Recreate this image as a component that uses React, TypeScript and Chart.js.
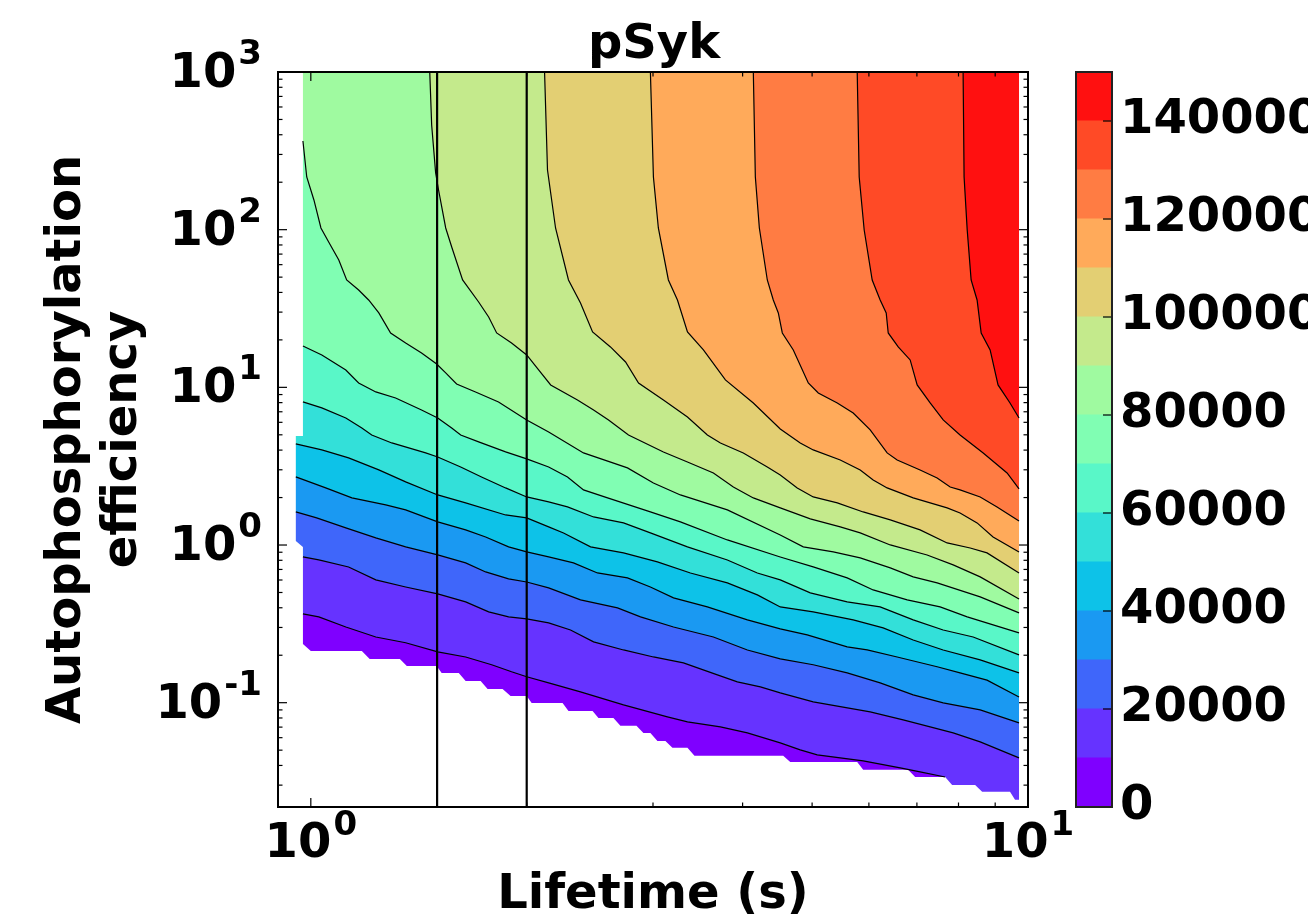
import React, { useEffect, useRef } from 'react';
import { Chart, registerables } from 'chart.js';

Chart.register(...registerables);

const FAMILY = "'DejaVu Sans', 'Liberation Sans', sans-serif";

// ---- contour levels and band colours ----
const LEVELS = [0, 10000, 20000, 30000, 40000, 50000, 60000, 70000, 80000, 90000, 100000, 110000, 120000, 130000, 140000, 150000];
const BAND_COLORS = [
  '#7f00ff', '#6633ff', '#3f66fa', '#1a99f2', '#0dc2e8', '#33e0d9', '#59f7c8', '#80feb3',
  '#9ffaa0', '#c4ea8c', '#e3cf73', '#ffaa5a', '#ff7c43', '#ff4a26', '#ff1010',
];
const CB_TICKS = [0, 20000, 40000, 60000, 80000, 100000, 120000, 140000];

// ---- axes ----
const X_MIN = 0.9;
const X_MAX = 10;
const Y_MIN = 0.0218;
const Y_MAX = 1000;
const X_MAJOR = [1, 10];
const X_EXP = ['0', '1'];
const Y_MAJOR = [0.1, 1, 10, 100, 1000];
const Y_EXP = ['-1', '0', '1', '2', '3'];
const MINOR_MULT = [2, 3, 4, 5, 6, 7, 8, 9];
const X_DECADES = [0.1, 1];
const Y_DECADES = [0.01, 0.1, 1, 10, 100];
const REF_X = [1.5, 2];

// ---- data domain (masked region edges) ----
const X_RIGHT = 9.716;
const Y_TOP = 1000;
const LEFT_EDGE: number[][] = [[0.975, 1000], [0.975, 4.92], [0.953, 4.92], [0.953, 1.062], [0.975, 0.9725], [0.975, 0.236]];
const BOTTOM_EDGE: number[][] = [
  [1.0, 0.2131], [1.178, 0.2131], [1.208, 0.1895], [1.331, 0.1895], [1.361, 0.1712], [1.498, 0.1712],
  [1.522, 0.1545], [1.608, 0.1545], [1.644, 0.1375], [1.725, 0.1375], [1.764, 0.1223], [1.851, 0.1223],
  [1.899, 0.1104], [2.0, 0.1104], [2.032, 0.0997], [2.244, 0.0997], [2.287, 0.0887], [2.471, 0.0887],
  [2.518, 0.0801], [2.642, 0.0801], [2.702, 0.0713], [2.845, 0.0713], [2.909, 0.0643], [2.975, 0.0643],
  [3.043, 0.0572], [3.122, 0.0572], [3.193, 0.0517], [3.351, 0.0517], [3.427, 0.046], [4.557, 0.046],
  [4.661, 0.0421], [5.779, 0.0421], [5.891, 0.0375], [6.806, 0.0375], [6.961, 0.0338], [7.664, 0.0338],
  [7.838, 0.0301], [8.439, 0.0301], [8.631, 0.0272], [9.439, 0.0272], [9.592, 0.0242], [9.716, 0.0242],
];

// ---- contour lines [lifetime, efficiency] ----
const c10000 = [[0.975, 0.366], [1.026, 0.35], [1.119, 0.302], [1.232, 0.261], [1.356, 0.24], [1.503, 0.21], [1.644, 0.195], [1.787, 0.174], [1.905, 0.157], [2.0, 0.146], [2.146, 0.1335], [2.377, 0.117], [2.729, 0.0968], [3.142, 0.0813], [3.351, 0.0755], [3.725, 0.0702], [4.062, 0.0643], [4.514, 0.0556], [4.813, 0.0502], [5.083, 0.0467], [5.891, 0.0428], [6.634, 0.0386], [7.072, 0.0364], [7.664, 0.0338]];
const c20000 = [[0.975, 0.84], [1.026, 0.804], [1.129, 0.726], [1.232, 0.601], [1.356, 0.542], [1.503, 0.49], [1.644, 0.436], [1.77, 0.377], [1.887, 0.35], [2.0, 0.34], [2.146, 0.321], [2.302, 0.289], [2.479, 0.243], [2.729, 0.216], [3.004, 0.195], [3.308, 0.179], [3.689, 0.15], [3.933, 0.1355], [4.235, 0.126], [4.514, 0.1154], [5.018, 0.1012], [6.025, 0.0874], [6.698, 0.0778], [7.304, 0.0702], [7.864, 0.0643], [8.577, 0.0564], [9.716, 0.0447]];
const c30000 = [[0.953, 1.621], [1.019, 1.485], [1.119, 1.284], [1.232, 1.109], [1.356, 0.973], [1.503, 0.865], [1.644, 0.77], [1.753, 0.675], [1.887, 0.61], [2.0, 0.583], [2.146, 0.535], [2.377, 0.449], [2.677, 0.399], [2.882, 0.35], [3.204, 0.302], [3.642, 0.261], [4.062, 0.216], [4.514, 0.1895], [5.018, 0.174], [5.596, 0.1545], [6.221, 0.1335], [6.917, 0.112], [7.616, 0.0997], [8.577, 0.09], [9.716, 0.0744]];
const c40000 = [[0.953, 2.703], [1.049, 2.302], [1.141, 1.989], [1.272, 1.796], [1.356, 1.67], [1.503, 1.401], [1.644, 1.247], [1.753, 1.125], [1.887, 0.973], [2.0, 0.904], [2.146, 0.84], [2.324, 0.77], [2.51, 0.665], [2.764, 0.619], [2.975, 0.542], [3.204, 0.462], [3.572, 0.405], [4.062, 0.335], [4.514, 0.294], [4.922, 0.269], [5.596, 0.226], [5.967, 0.216], [6.57, 0.195], [7.47, 0.169], [8.04, 0.1545], [8.767, 0.139], [9.716, 0.1088]];
const c50000 = [[0.953, 4.377], [1.036, 4.009], [1.129, 3.567], [1.244, 2.994], [1.356, 2.513], [1.503, 2.078], [1.644, 1.849], [1.869, 1.551], [2.0, 1.485], [2.146, 1.303], [2.251, 1.193], [2.455, 0.973], [2.729, 0.891], [3.043, 0.781], [3.383, 0.665], [3.809, 0.575], [4.194, 0.483], [4.514, 0.405], [5.018, 0.377], [5.705, 0.335], [6.281, 0.298], [6.917, 0.25], [7.616, 0.216], [8.577, 0.187], [9.716, 0.1545]];
const c60000 = [[0.975, 8.08], [1.036, 7.403], [1.119, 6.396], [1.178, 5.526], [1.216, 4.99], [1.297, 4.44], [1.446, 3.837], [1.503, 3.619], [1.618, 3.127], [1.73, 2.703], [1.869, 2.302], [2.0, 2.018], [2.146, 1.877], [2.28, 1.744], [2.479, 1.507], [2.729, 1.381], [2.975, 1.193], [3.351, 0.973], [3.809, 0.804], [4.194, 0.665], [4.514, 0.601], [4.971, 0.497], [5.596, 0.436], [6.221, 0.405], [6.917, 0.335], [7.616, 0.289], [8.386, 0.261], [9.716, 0.201]];
const c70000 = [[0.975, 18.3], [1.036, 16.05], [1.119, 12.89], [1.166, 10.66], [1.232, 9.35], [1.313, 8.566], [1.427, 7.19], [1.503, 6.396], [1.572, 5.526], [1.618, 4.99], [1.714, 4.506], [1.869, 3.894], [2.0, 3.516], [2.146, 3.127], [2.28, 2.703], [2.4, 2.236], [2.593, 1.989], [2.975, 1.621], [3.276, 1.401], [3.809, 1.077], [4.514, 0.84], [5.018, 0.726], [5.596, 0.619], [6.083, 0.519], [6.785, 0.449], [7.542, 0.405], [8.227, 0.35], [9.716, 0.277]];
const c80000 = [[0.975, 365.2], [0.987, 215.9], [1.01, 154.3], [1.033, 102.5], [1.059, 83.56], [1.094, 64.26], [1.122, 47.97], [1.166, 41.46], [1.204, 35.83], [1.244, 29.64], [1.292, 22.13], [1.356, 19.12], [1.427, 16.52], [1.498, 14.07], [1.542, 12.34], [1.597, 10.51], [1.697, 9.35], [1.827, 8.08], [2.0, 6.213], [2.146, 5.214], [2.4, 3.837], [2.764, 3.083], [3.004, 2.476], [3.276, 2.078], [3.809, 1.67], [4.514, 1.159], [4.86, 0.973], [5.352, 0.904], [5.835, 0.828], [6.426, 0.716], [6.917, 0.628], [7.47, 0.575], [8.577, 0.469], [9.716, 0.371]];
const c90000 = [[1.465, 1000], [1.474, 461.2], [1.493, 228.8], [1.507, 178.5], [1.542, 102.5], [1.572, 77.67], [1.628, 47.97], [1.714, 34.79], [1.77, 27.95], [1.816, 22.13], [1.905, 19.12], [2.0, 16.05], [2.078, 12.89], [2.16, 10.36], [2.354, 8.32], [2.479, 7.19], [2.601, 6.213], [2.773, 4.99], [3.102, 3.894], [3.351, 3.364], [3.642, 2.865], [3.883, 2.335], [4.14, 1.989], [4.514, 1.719], [4.971, 1.464], [5.473, 1.303], [5.835, 1.193], [6.426, 1.001], [7.233, 0.865], [7.864, 0.748], [8.577, 0.628], [9.716, 0.455]];
const c100000 = [[2.118, 1000], [2.138, 239.1], [2.194, 102.5], [2.287, 47.97], [2.377, 34.29], [2.471, 22.46], [2.617, 18.04], [2.747, 14.49], [2.864, 10.66], [3.102, 8.32], [3.351, 6.491], [3.572, 4.99], [3.725, 4.44], [4.009, 3.837], [4.33, 3.127], [4.514, 2.782], [4.767, 2.302], [5.018, 2.018], [5.421, 1.849], [5.891, 1.621], [6.426, 1.443], [7.072, 1.247], [7.713, 1.031], [8.306, 0.958], [8.767, 0.891], [9.716, 0.665]];
const c110000 = [[2.975, 1000], [3.004, 215.9], [3.052, 102.5], [3.152, 47.97], [3.245, 35.83], [3.351, 22.46], [3.527, 17.26], [3.785, 11.14], [4.14, 7.962], [4.514, 5.447], [4.813, 4.44], [5.018, 4.009], [5.473, 3.464], [5.835, 2.994], [6.083, 2.587], [6.362, 2.302], [6.917, 1.989], [7.713, 1.719], [8.04, 1.598], [8.492, 1.381], [8.939, 1.125], [9.716, 0.904]];
const c120000 = [[4.14, 1000], [4.167, 215.9], [4.221, 102.5], [4.33, 47.97], [4.414, 35.83], [4.486, 29.64], [4.544, 22.13], [4.707, 17.26], [4.939, 10.66], [5.1, 9.215], [5.421, 7.962], [5.705, 6.88], [6.025, 5.369], [6.362, 3.837], [6.57, 3.464], [7.072, 2.994], [7.47, 2.664], [7.789, 2.335], [8.04, 2.236], [8.577, 2.018], [9.054, 1.744], [9.716, 1.421]];
const c130000 = [[5.779, 1000], [5.816, 215.9], [5.91, 99.56], [6.064, 47.97], [6.221, 35.83], [6.343, 29.64], [6.384, 22.13], [6.592, 18.04], [6.85, 14.92], [7.006, 10.36], [7.304, 7.962], [7.616, 6.213], [8.04, 4.99], [8.66, 3.837], [9.35, 2.865], [9.716, 2.269]];
const c140000 = [[8.119, 1000], [8.145, 215.9], [8.227, 99.56], [8.331, 47.97], [8.492, 35.83], [8.604, 22.13], [8.855, 17.26], [9.083, 10.36], [9.439, 7.962], [9.716, 6.396]];

const CONTOURS = [c10000, c20000, c30000, c40000, c50000, c60000, c70000, c80000, c90000, c100000, c110000, c120000, c130000, c140000];

const toPts = (arr: number[][]) => arr.map(([x, y]) => ({ x, y }));

// region where value >= level (extended past the domain; the mask trims it)
function regionFor(line: number[][]): number[][] {
  const pts = line.slice();
  const last = pts[pts.length - 1];
  if (last[0] < X_RIGHT - 1e-6) {
    pts.push([last[0], Y_MIN]);
    pts.push([X_MAX, Y_MIN]);
  } else {
    pts.push([X_MAX, last[1]]);
  }
  pts.push([X_MAX, Y_MAX]);
  const first = line[0];
  if (first[1] < Y_TOP) {
    pts.push([X_MIN, Y_MAX]);
    pts.push([X_MIN, first[1]]);
  }
  return pts;
}

// outside of the data domain (white)
const MASK: number[][] = [[X_MIN, Y_MAX], ...LEFT_EDGE, ...BOTTOM_EDGE, [X_RIGHT, Y_TOP], [X_MAX, Y_MAX], [X_MAX, Y_MIN], [X_MIN, Y_MIN]];

const MAIN_FONT = `bold 48px ${FAMILY}`;
const SUP_FONT = `bold 34px ${FAMILY}`;

const axesDecor = {
  id: 'axesDecor',
  afterDraw(chart: any) {
    const { ctx, chartArea: a } = chart;
    const xs = chart.scales.x;
    const ys = chart.scales.y;
    ctx.save();
    ctx.strokeStyle = '#000';
    ctx.lineWidth = 1.2;
    const seg = (x1: number, y1: number, x2: number, y2: number) => {
      ctx.beginPath();
      ctx.moveTo(x1, y1);
      ctx.lineTo(x2, y2);
      ctx.stroke();
    };
    const xTick = (v: number, len: number) => {
      if (v < X_MIN || v > X_MAX) return;
      const p = xs.getPixelForValue(v);
      seg(p, a.bottom, p, a.bottom - len);
      seg(p, a.top, p, a.top + len);
    };
    const yTick = (v: number, len: number) => {
      if (v < Y_MIN || v > Y_MAX) return;
      const p = ys.getPixelForValue(v);
      seg(a.left, p, a.left + len, p);
      seg(a.right, p, a.right - len, p);
    };
    X_MAJOR.forEach((v) => xTick(v, 9));
    X_DECADES.forEach((d) => MINOR_MULT.forEach((m) => { const v = d * m; if (v > X_MIN + 1e-9) xTick(v, 4.5); }));
    Y_MAJOR.forEach((v) => yTick(v, 9));
    Y_DECADES.forEach((d) => MINOR_MULT.forEach((m) => yTick(d * m, 4.5)));

    ctx.lineWidth = 2;
    ctx.strokeRect(a.left, a.top, a.right - a.left, a.bottom - a.top);

    ctx.fillStyle = '#000';
    ctx.textBaseline = 'alphabetic';
    ctx.textAlign = 'left';
    const GAP = 2;
    X_MAJOR.forEach((v, i) => {
      const p = xs.getPixelForValue(v);
      ctx.font = MAIN_FONT;
      const w1 = ctx.measureText('10').width;
      ctx.font = SUP_FONT;
      const w2 = ctx.measureText(X_EXP[i]).width;
      const x0 = p - (w1 + GAP + w2) / 2;
      const base = a.bottom + 50;
      ctx.font = MAIN_FONT;
      ctx.fillText('10', x0, base);
      ctx.font = SUP_FONT;
      ctx.fillText(X_EXP[i], x0 + w1 + GAP, base - 22);
    });
    Y_MAJOR.forEach((v, i) => {
      const p = ys.getPixelForValue(v);
      ctx.font = MAIN_FONT;
      const w1 = ctx.measureText('10').width;
      ctx.font = SUP_FONT;
      const w2 = ctx.measureText(Y_EXP[i]).width;
      const right = a.left - 16;
      const x0 = right - (w1 + GAP + w2);
      const base = p + 15;
      ctx.font = MAIN_FONT;
      ctx.fillText('10', x0, base);
      ctx.font = SUP_FONT;
      ctx.fillText(Y_EXP[i], x0 + w1 + GAP, base - 23);
    });
    ctx.restore();
  },
};

const cbDecor = {
  id: 'cbDecor',
  afterDraw(chart: any) {
    const { ctx, chartArea: a } = chart;
    const ys = chart.scales.y;
    ctx.save();
    ctx.strokeStyle = '#000';
    ctx.lineWidth = 1.2;
    CB_TICKS.forEach((v) => {
      const p = ys.getPixelForValue(v);
      ctx.beginPath();
      ctx.moveTo(a.right, p);
      ctx.lineTo(a.right - 9, p);
      ctx.stroke();
    });
    ctx.strokeStyle = '#222';
    ctx.lineWidth = 2;
    ctx.strokeRect(a.left + 1, a.top, a.right - a.left - 1, a.bottom - a.top);
    ctx.restore();
  },
};

export default function App() {
  const mainRef = useRef<HTMLCanvasElement>(null);
  const cbRef = useRef<HTMLCanvasElement>(null);

  useEffect(() => {
    Chart.defaults.font.family = FAMILY;
    Chart.defaults.color = '#000';

    const common = { showLine: true, pointRadius: 0, pointHoverRadius: 0, tension: 0 };
    const fillCommon = { ...common, borderColor: 'rgba(0,0,0,0)', borderWidth: 0, fill: 'shape' };
    const datasets: any[] = [];
    datasets.push({
      ...fillCommon,
      data: toPts([[X_MIN, Y_MIN], [X_MAX, Y_MIN], [X_MAX, Y_MAX], [X_MIN, Y_MAX]]),
      backgroundColor: BAND_COLORS[0],
      order: 100,
    });
    CONTOURS.forEach((c, i) => {
      datasets.push({
        ...fillCommon,
        data: toPts(regionFor(c)),
        backgroundColor: BAND_COLORS[i + 1],
        order: 99 - i,
      });
    });
    datasets.push({
      ...fillCommon,
      data: toPts(MASK),
      backgroundColor: '#ffffff',
      order: 50,
    });
    CONTOURS.forEach((c) => {
      datasets.push({
        ...common,
        data: toPts(c),
        borderColor: '#000',
        borderWidth: 1.2,
        fill: false,
        order: 10,
      });
    });
    REF_X.forEach((v) => {
      datasets.push({
        ...common,
        data: [{ x: v, y: Y_MIN }, { x: v, y: Y_MAX }],
        borderColor: '#000',
        borderWidth: 2.2,
        fill: false,
        order: 0,
      });
    });

    const main = new Chart(mainRef.current as HTMLCanvasElement, {
      type: 'scatter',
      data: { datasets },
      options: {
        responsive: false,
        animation: false,
        events: [],
        layout: { padding: 0 },
        plugins: {
          legend: { display: false },
          tooltip: { enabled: false },
          title: {
            display: true,
            text: 'pSyk',
            color: '#000',
            font: { family: FAMILY, size: 48, weight: 'bold', lineHeight: '52px' },
            padding: { top: 20, bottom: 0 },
          },
        },
        scales: {
          x: {
            type: 'logarithmic',
            position: 'bottom',
            min: X_MIN,
            max: X_MAX,
            bounds: 'data',
            grid: { display: false, drawTicks: false },
            border: { display: false },
            ticks: { display: false },
            title: {
              display: true,
              text: 'Lifetime (s)',
              color: '#000',
              font: { family: FAMILY, size: 48, weight: 'bold', lineHeight: '50px' },
              padding: { top: 0, bottom: 0 },
            },
            afterFit: (s: any) => { s.height = 114; },
          },
          y: {
            type: 'logarithmic',
            position: 'left',
            min: Y_MIN,
            max: Y_MAX,
            bounds: 'data',
            grid: { display: false, drawTicks: false },
            border: { display: false },
            ticks: { display: false },
            title: {
              display: true,
              text: ['Autophosphorylation', 'efficiency'],
              color: '#000',
              font: { family: FAMILY, size: 48, weight: 'bold', lineHeight: '56px' },
              padding: { top: 40, bottom: 0 },
            },
            afterFit: (s: any) => { s.width = 278; },
          },
          yRightSpace: {
            type: 'linear',
            position: 'right',
            display: true,
            grid: { display: false, drawTicks: false },
            border: { display: false },
            ticks: { display: false },
            afterFit: (s: any) => { s.width = 280; },
          },
        },
      } as any,
      plugins: [axesDecor],
    });

    const cb = new Chart(cbRef.current as HTMLCanvasElement, {
      type: 'bar',
      data: {
        labels: [''],
        datasets: BAND_COLORS.map((c, i) => ({
          data: [LEVELS[i + 1] - LEVELS[i]],
          backgroundColor: c,
          borderWidth: 0,
          barPercentage: 1,
          categoryPercentage: 1,
          inflateAmount: 0.5,
        })),
      },
      options: {
        responsive: false,
        animation: false,
        events: [],
        layout: { padding: { top: 72, bottom: 114, left: 0, right: 0 } },
        plugins: { legend: { display: false }, tooltip: { enabled: false }, title: { display: false } },
        scales: {
          x: { stacked: true, display: false },
          y: {
            stacked: true,
            position: 'right',
            min: LEVELS[0],
            max: LEVELS[LEVELS.length - 1],
            grid: { display: false, drawTicks: false },
            border: { display: false },
            ticks: {
              color: '#000',
              font: { family: FAMILY, size: 48, weight: 'bold' },
              padding: 8,
              autoSkip: false,
              callback: (v: any) => String(v),
            },
            afterBuildTicks: (s: any) => { s.ticks = CB_TICKS.map((v) => ({ value: v })); },
            afterFit: (s: any) => { s.width = 196; },
          },
        },
      } as any,
      plugins: [cbDecor],
    });

    return () => {
      main.destroy();
      cb.destroy();
    };
  }, []);

  return (
    <div style={{ position: 'absolute', left: 0, top: 0, width: 1308, height: 921, background: '#fff', overflow: 'hidden' }}>
      <canvas ref={mainRef} width={1308} height={921} style={{ position: 'absolute', left: 0, top: 0, width: 1308, height: 921 }} />
      <canvas ref={cbRef} width={233} height={921} style={{ position: 'absolute', left: 1075, top: 0, width: 233, height: 921 }} />
    </div>
  );
}
